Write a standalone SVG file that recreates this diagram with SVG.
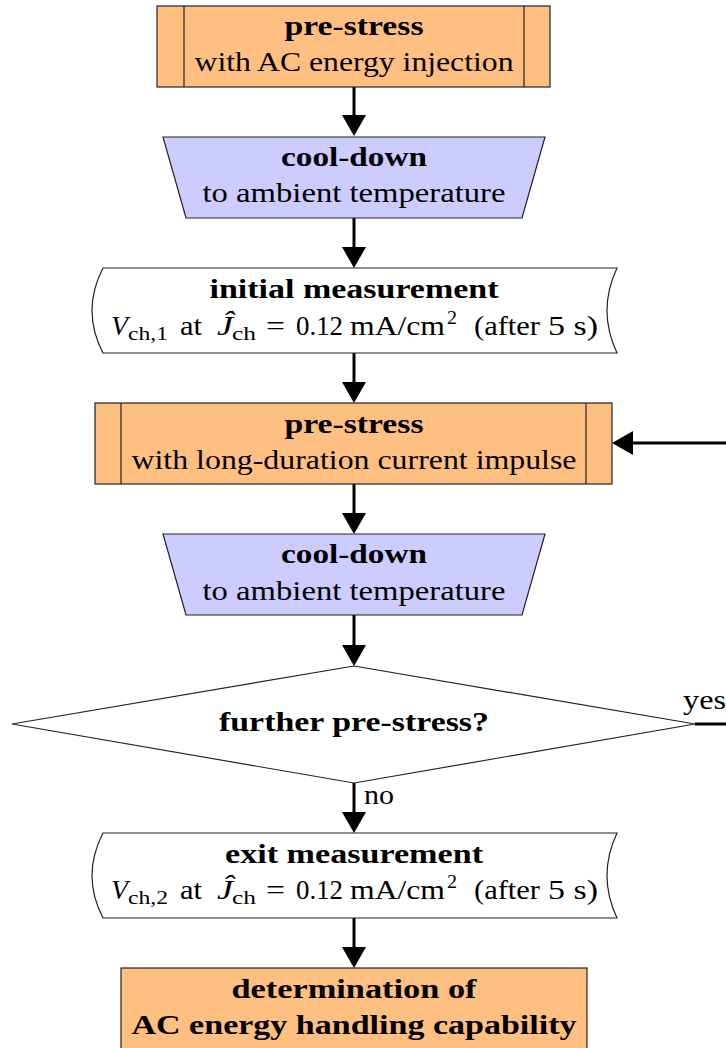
<svg xmlns="http://www.w3.org/2000/svg" width="726" height="1048" viewBox="0 0 726 1048">
  <style>
    .t { font-family: "Liberation Serif", "Times New Roman", serif; font-size: 27px; fill: #000; }
    .b { font-weight: bold; }
    .i { font-style: italic; }
    .s { font-size: 19px; }
    .proc { fill: #FFBF80; stroke: #222; stroke-width: 1.2; }
    .cool { fill: #CCCCFF; stroke: #222; stroke-width: 1.2; }
    .plain { fill: #FFFFFF; stroke: #222; stroke-width: 1.2; }
    .edge { stroke: #000; stroke-width: 3; fill: none; }
  </style>
  <defs>
    <marker id="head" viewBox="0 0 21 24" refX="3" refY="12" markerWidth="21" markerHeight="24" markerUnits="userSpaceOnUse" orient="auto">
      <path d="M0,0 L21,12 L0,24 Z" fill="#000"/>
    </marker>
  </defs>

  <rect width="726" height="1048" fill="#FFFFFF"/>

  <!-- connectors -->
  <g id="connectors">
    <line class="edge" x1="354" y1="87" x2="354" y2="118" marker-end="url(#head)"/>
    <line class="edge" x1="354" y1="218" x2="354" y2="250" marker-end="url(#head)"/>
    <line class="edge" x1="354" y1="353" x2="354" y2="385" marker-end="url(#head)"/>
    <line class="edge" x1="354" y1="484" x2="354" y2="516" marker-end="url(#head)"/>
    <line class="edge" x1="354" y1="615" x2="354" y2="648" marker-end="url(#head)"/>
    <line class="edge" x1="354" y1="783" x2="354" y2="815" marker-end="url(#head)"/>
    <line class="edge" x1="354" y1="918" x2="354" y2="950" marker-end="url(#head)"/>
    <line class="edge" x1="695" y1="724" x2="730" y2="724"/>
    <line class="edge" x1="730" y1="443" x2="630" y2="443" marker-end="url(#head)"/>
    <text class="t" x="683" y="709" textLength="43" lengthAdjust="spacingAndGlyphs">yes</text>
    <text class="t" x="364" y="804" textLength="30" lengthAdjust="spacingAndGlyphs">no</text>
  </g>

  <!-- pre-stress with AC energy injection -->
  <g id="prestress-ac">
    <rect class="proc" x="157" y="6" width="393" height="81"/>
    <line class="proc" x1="184" y1="6" x2="184" y2="87"/>
    <line class="proc" x1="524" y1="6" x2="524" y2="87"/>
    <text class="t b" x="354" y="35" text-anchor="middle" textLength="139" lengthAdjust="spacingAndGlyphs">pre-stress</text>
    <text class="t" x="354" y="71" text-anchor="middle" textLength="319" lengthAdjust="spacingAndGlyphs">with AC energy injection</text>
  </g>

  <!-- cool-down 1 -->
  <g id="cooldown-1">
    <polygon class="cool" points="163,137 545,137 522,218 186,218"/>
    <text class="t b" x="354" y="166" text-anchor="middle" textLength="146" lengthAdjust="spacingAndGlyphs">cool-down</text>
    <text class="t" x="354" y="202" text-anchor="middle" textLength="303" lengthAdjust="spacingAndGlyphs">to ambient temperature</text>
  </g>

  <!-- initial measurement -->
  <g id="initial-measurement">
    <path class="plain" d="M103,268 L617,268 Q597,310.5 617,353 L103,353 Q81,310.5 103,268 Z"/>
    <text class="t b" x="354" y="298" text-anchor="middle" textLength="289" lengthAdjust="spacingAndGlyphs">initial measurement</text>
    <text class="t i" x="111" y="335" textLength="17" lengthAdjust="spacingAndGlyphs">V</text>
    <text class="t s" x="128" y="340" textLength="40" lengthAdjust="spacingAndGlyphs">ch,1</text>
    <text class="t" x="180" y="335" textLength="22" lengthAdjust="spacingAndGlyphs">at</text>
    <text class="t i" x="217" y="335" textLength="16" lengthAdjust="spacingAndGlyphs">Ĵ</text>
    <text class="t s" x="232" y="340" textLength="24" lengthAdjust="spacingAndGlyphs">ch</text>
    <text class="t" x="266" y="335" textLength="19" lengthAdjust="spacingAndGlyphs">=</text>
    <text class="t" x="296" y="335" textLength="47" lengthAdjust="spacingAndGlyphs">0.12</text>
    <text class="t" x="350" y="335" textLength="95" lengthAdjust="spacingAndGlyphs">mA/cm</text>
    <text class="t s" x="447" y="324" textLength="10" lengthAdjust="spacingAndGlyphs">2</text>
    <text class="t" x="474" y="335" textLength="66" lengthAdjust="spacingAndGlyphs">(after</text>
    <text class="t" x="548" y="335" textLength="50" lengthAdjust="spacingAndGlyphs">5 s)</text>
  </g>

  <!-- pre-stress with long-duration current impulse -->
  <g id="prestress-impulse">
    <rect class="proc" x="95" y="403" width="517" height="81"/>
    <line class="proc" x1="121" y1="403" x2="121" y2="484"/>
    <line class="proc" x1="586" y1="403" x2="586" y2="484"/>
    <text class="t b" x="354" y="433" text-anchor="middle" textLength="139" lengthAdjust="spacingAndGlyphs">pre-stress</text>
    <text class="t" x="354" y="469" text-anchor="middle" textLength="445" lengthAdjust="spacingAndGlyphs">with long-duration current impulse</text>
  </g>

  <!-- cool-down 2 -->
  <g id="cooldown-2">
    <polygon class="cool" points="163,534 545,534 522,615 186,615"/>
    <text class="t b" x="354" y="563" text-anchor="middle" textLength="146" lengthAdjust="spacingAndGlyphs">cool-down</text>
    <text class="t" x="354" y="600" text-anchor="middle" textLength="303" lengthAdjust="spacingAndGlyphs">to ambient temperature</text>
  </g>

  <!-- decision -->
  <g id="decision">
    <polygon class="plain" points="354,666 695,724 354,783 12,724"/>
    <text class="t b" x="354" y="731" text-anchor="middle" textLength="270" lengthAdjust="spacingAndGlyphs">further pre-stress?</text>
  </g>

  <!-- exit measurement -->
  <g id="exit-measurement">
    <path class="plain" d="M103,833 L617,833 Q597,875.5 617,918 L103,918 Q81,875.5 103,833 Z"/>
    <text class="t b" x="354" y="863" text-anchor="middle" textLength="258" lengthAdjust="spacingAndGlyphs">exit measurement</text>
    <text class="t i" x="111" y="899" textLength="17" lengthAdjust="spacingAndGlyphs">V</text>
    <text class="t s" x="128" y="904" textLength="40" lengthAdjust="spacingAndGlyphs">ch,2</text>
    <text class="t" x="180" y="899" textLength="22" lengthAdjust="spacingAndGlyphs">at</text>
    <text class="t i" x="217" y="899" textLength="16" lengthAdjust="spacingAndGlyphs">Ĵ</text>
    <text class="t s" x="232" y="904" textLength="24" lengthAdjust="spacingAndGlyphs">ch</text>
    <text class="t" x="266" y="899" textLength="19" lengthAdjust="spacingAndGlyphs">=</text>
    <text class="t" x="296" y="899" textLength="47" lengthAdjust="spacingAndGlyphs">0.12</text>
    <text class="t" x="350" y="899" textLength="95" lengthAdjust="spacingAndGlyphs">mA/cm</text>
    <text class="t s" x="447" y="888" textLength="10" lengthAdjust="spacingAndGlyphs">2</text>
    <text class="t" x="474" y="899" textLength="66" lengthAdjust="spacingAndGlyphs">(after</text>
    <text class="t" x="548" y="899" textLength="50" lengthAdjust="spacingAndGlyphs">5 s)</text>
  </g>

  <!-- determination -->
  <g id="determination">
    <rect class="proc" x="121" y="968" width="466" height="95"/>
    <text class="t b" x="354" y="998" text-anchor="middle" textLength="245" lengthAdjust="spacingAndGlyphs">determination of</text>
    <text class="t b" x="354" y="1034" text-anchor="middle" textLength="445" lengthAdjust="spacingAndGlyphs">AC energy handling capability</text>
  </g>
</svg>
